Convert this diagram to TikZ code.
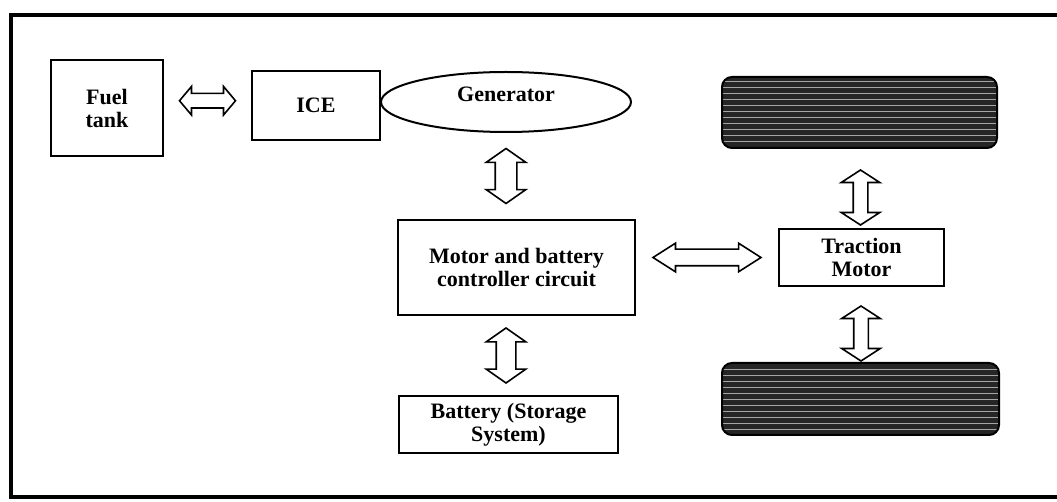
\documentclass[tikz,border=0pt]{standalone}
\usepackage{fontspec}
\setmainfont{Liberation Serif}
\usetikzlibrary{shapes.geometric, shapes.arrows, patterns}

\begin{document}
\begin{tikzpicture}[x=0.5pt, y=-0.5pt,
  every node/.style={font=\bfseries\fontsize{11}{11.5}\selectfont, inner sep=1pt, align=center},
  blk/.style={draw, line width=1pt, fill=white},
  wheel/.style={draw, line width=1pt, rounded corners=5pt, preaction={fill=black!85}, pattern=horizontal lines, pattern color=gray!70},
  dbl/.style={double arrow, draw, line width=0.8pt, fill=white, double arrow head indent=0pt, inner xsep=0pt},
  harr/.style={dbl, minimum height=28pt, inner ysep=3.25pt, double arrow head extend=3.5pt, double arrow tip angle=100},
  varr/.style={dbl, rotate=90, minimum height=27.5pt, inner ysep=5pt, double arrow head extend=4.5pt, double arrow tip angle=110}
]
  \useasboundingbox (0,0) rectangle (1057,502);
  % outer frame (right side runs off the page)
  \draw[line width=1.8pt] (1070,15) -- (11,15) -- (11,497) -- (1070,497);

  % Engine side
  \node[blk, minimum width=56pt, minimum height=48pt] (fuel) at (107,108) {Fuel\\tank};
  \node[blk, minimum width=64pt, minimum height=34.5pt] (ice) at (316,105.5) {ICE};
  \node[blk, ellipse, minimum width=125pt, minimum height=30pt, inner sep=0pt] (gen) at (506,102) {};
  \node at (506,94) (gentxt) {Generator};

  % Middle
  \node[blk, minimum width=118.5pt, minimum height=47.5pt] (ctrl) at (516.5,267.5) {Motor and battery\\controller circuit};
  \node[blk, minimum width=109.5pt, minimum height=28.5pt] (batt) at (508.5,424.5) {Battery (Storage\\System)};

  % Right: wheels and motor
  \node[wheel, minimum width=137.5pt, minimum height=35.5pt] (wtop) at (859.5,112.5) {};
  \node[blk, minimum width=82.5pt, minimum height=28.5pt] (trac) at (861.5,257.5) {Traction\\Motor};
  \node[wheel, minimum width=138.5pt, minimum height=36pt] (wbot) at (860.5,399) {};

  % Connections
  \path (fuel.east) -- node[harr, yshift=3pt] {} (ice.west);
  \path (gen.south) -- node[varr] {} (gen.south |- ctrl.north);
  \path (ctrl.south -| gen.south) -- node[varr, inner ysep=4.5pt, double arrow head extend=5pt] {} (batt.north -| gen.south);
  \path (ctrl.east |- trac.west) -- node[harr, minimum height=54pt, inner ysep=3.75pt, double arrow head extend=3pt, double arrow tip angle=65] {} (trac.west);
  \path (wtop.south) -- node[varr, xshift=-4.5pt, inner ysep=3.25pt, double arrow head extend=6pt, double arrow tip angle=114] {} (trac.north);
  \path (trac.south) -- node[varr, xshift=-4.5pt, inner ysep=3.25pt, double arrow head extend=6pt, double arrow tip angle=114] {} (wbot.north);
\end{tikzpicture}
\end{document}
